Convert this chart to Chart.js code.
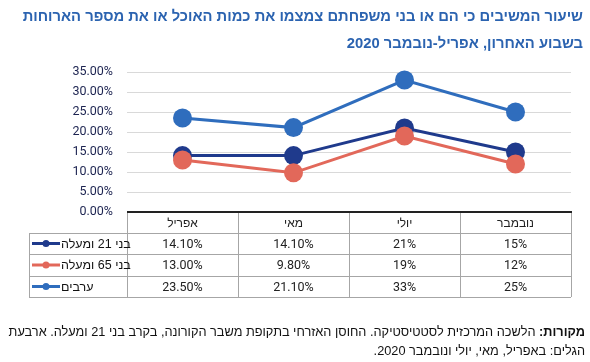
<!DOCTYPE html>
<html lang="he">
<head>
<meta charset="utf-8">
<script src="https://cdn.jsdelivr.net/npm/chart.js@4/dist/chart.umd.min.js"></script>
<style>
  html, body { margin: 0; padding: 0; background: #ffffff; }
  #wrap { position: relative; width: 590px; height: 362px; overflow: hidden; }
  #c { position: absolute; left: 0; top: 0; }
  .line { position: absolute; direction: rtl; text-align: right; white-space: nowrap;
    font-family: "Liberation Sans", "DejaVu Sans", sans-serif; }
  .t { right: 7px; font-weight: bold; font-size: 16px; color: #2b63b0; line-height: 20px; }
  .f { right: 5px; font-size: 12.5px; color: #111; line-height: 16px; }
</style>
</head>
<body>
<div id="wrap">
  <canvas id="c" width="590" height="362"></canvas>
  <div class="line t" id="t1" data-w="561" style="top:6px">שיעור המשיבים כי הם או בני משפחתם צמצמו את כמות האוכל או את מספר הארוחות</div>
  <div class="line t" id="t2" style="top:33px">בשבוע האחרון, אפריל-נובמבר 2020</div>
  <div class="line f" id="f1" data-w="577" style="top:324px"><b>מקורות:</b> הלשכה המרכזית לסטטיסטיקה. החוסן האזרחי בתקופת משבר הקורונה, בקרב בני 21 ומעלה. ארבעת</div>
  <div class="line f" id="f2" style="top:343px">הגלים: באפריל, מאי, יולי ונובמבר 2020.</div>
</div>
<script>
const categories = ["אפריל", "מאי", "יולי", "נובמבר"];
const seriesNames = ["בני 21 ומעלה", "בני 65 ומעלה", "ערבים"];
const age21 = [14.1, 14.1, 21, 15];
const age65 = [13.0, 9.8, 19, 12];
const arabs = [23.5, 21.1, 33, 25];
const age21Labels = ["14.10%", "14.10%", "21%", "15%"];
const age65Labels = ["13.00%", "9.80%", "19%", "12%"];
const arabsLabels = ["23.50%", "21.10%", "33%", "25%"];
const yTicks = [0, 5, 10, 15, 20, 25, 30, 35];

// fit text lines to the reference widths
[["t1", "t2"], ["f1", "f2"]].forEach(([a, b]) => {
  const el = document.getElementById(a);
  const target = +el.dataset.w;
  const fs = parseFloat(getComputedStyle(el).fontSize);
  const w = el.getBoundingClientRect().width;
  const nfs = fs * target / w;
  el.style.fontSize = nfs + "px";
  document.getElementById(b).style.fontSize = nfs + "px";
});

const colors = ["#1f3a8c", "#e2685a", "#2f6dbd"];
const seriesValues = [age21, age65, arabs];
const seriesLabels = [age21Labels, age65Labels, arabsLabels];
const drawOrder = [1, 0, 2];

const tablePlugin = {
  id: "dataTable",
  afterDraw(chart) {
    const ctx = chart.ctx;
    const xs = chart.scales.x;
    const area = chart.chartArea;
    const left = area.left, right = area.right, top = area.bottom;
    const legendLeft = 29;
    const rows = [top, top + 21, top + 42, top + 64, top + 85];
    const centers = categories.map((c, i) => xs.getPixelForValue(i));
    const half = (centers[1] - centers[0]) / 2;
    ctx.save();
    ctx.strokeStyle = "#a6a6a6";
    ctx.lineWidth = 1;
    for (let r = 1; r < rows.length; r++) {
      const y = Math.round(rows[r]) + 0.5;
      ctx.beginPath(); ctx.moveTo(legendLeft, y); ctx.lineTo(right, y); ctx.stroke();
    }
    const vx = [left].concat(centers.map(c => c + half));
    vx.forEach(x => {
      ctx.beginPath(); ctx.moveTo(Math.round(x) + 0.5, rows[0]); ctx.lineTo(Math.round(x) + 0.5, rows[4]); ctx.stroke();
    });
    ctx.beginPath(); ctx.moveTo(legendLeft + 0.5, rows[1]); ctx.lineTo(legendLeft + 0.5, rows[4]); ctx.stroke();
    ctx.strokeStyle = "#222";
    ctx.lineWidth = 2;
    ctx.beginPath(); ctx.moveTo(left, top); ctx.lineTo(right + 1, top); ctx.stroke();
    ctx.fillStyle = "#222";
    ctx.textBaseline = "middle";
    ctx.textAlign = "center";
    ctx.direction = "rtl";
    ctx.font = "12px 'Liberation Sans', 'DejaVu Sans', sans-serif";
    categories.forEach((c, i) => ctx.fillText(c, centers[i], (rows[0] + rows[1]) / 2 + 1));
    ctx.font = "12.5px Roboto, 'Liberation Sans', sans-serif";
    ctx.direction = "ltr";
    seriesLabels.forEach((labs, s) => {
      const yMid = (rows[s + 1] + rows[s + 2]) / 2 + 1;
      labs.forEach((t, i) => ctx.fillText(t, centers[i], yMid));
    });
    seriesNames.forEach((n, s) => {
      const yMid = (rows[s + 1] + rows[s + 2]) / 2;
      ctx.strokeStyle = colors[s];
      ctx.fillStyle = colors[s];
      ctx.lineWidth = 3;
      ctx.beginPath(); ctx.moveTo(32, yMid); ctx.lineTo(60, yMid); ctx.stroke();
      ctx.beginPath(); ctx.arc(46, yMid, 3.5, 0, Math.PI * 2); ctx.fill();
      ctx.fillStyle = "#111";
      ctx.direction = "rtl";
      ctx.textAlign = "left";
      ctx.font = "12.5px 'Liberation Sans', 'DejaVu Sans', sans-serif";
      ctx.fillText(n, 61, yMid + 1);
    });
    ctx.restore();
  }
};

new Chart(document.getElementById("c"), {
  type: "line",
  data: {
    labels: categories,
    datasets: seriesNames.map((n, s) => ({
      label: n,
      data: seriesValues[s],
      borderColor: colors[s],
      backgroundColor: colors[s],
      pointBackgroundColor: colors[s],
      pointBorderColor: colors[s],
      borderWidth: 3,
      pointRadius: 9.5,
      pointBorderWidth: 0,
      tension: 0,
      order: drawOrder[s],
      clip: false
    }))
  },
  options: {
    responsive: false,
    animation: false,
    devicePixelRatio: 1,
    layout: { padding: { top: 72, right: 19, bottom: 150, left: 0 } },
    plugins: { legend: { display: false }, tooltip: { enabled: false }, title: { display: false } },
    scales: {
      x: { type: "category", offset: true, display: false },
      y: {
        min: 0, max: 35,
        afterBuildTicks(scale) { scale.ticks = yTicks.map(v => ({ value: v })); },
        afterFit(scale) { scale.width = 127; },
        border: { display: false },
        grid: { drawTicks: false, color: ctx => ctx.tick && ctx.tick.value === 0 ? "rgba(0,0,0,0)" : "#d9d9d9", lineWidth: 1 },
        ticks: {
          padding: 14,
          color: "#1c2350",
          font: { family: "Roboto, 'Liberation Sans', sans-serif", size: 12.5 },
          callback: v => Number(v).toFixed(2) + "%"
        }
      }
    }
  },
  plugins: [tablePlugin]
});
</script>
</body>
</html>
